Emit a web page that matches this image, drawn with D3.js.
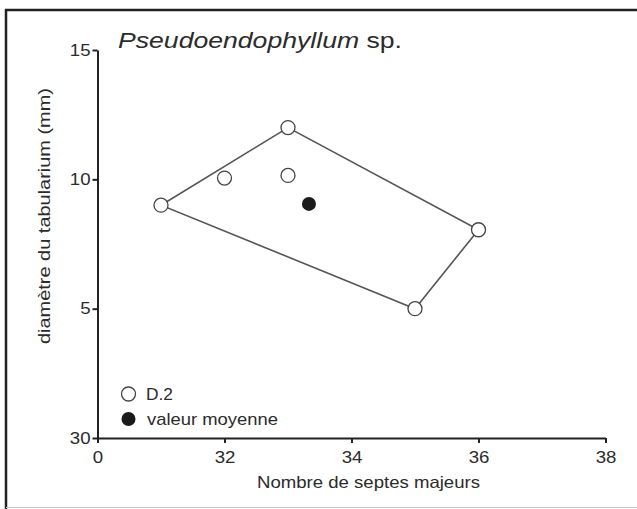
<!DOCTYPE html>
<html>
<head>
<meta charset="utf-8">
<script src="https://cdn.jsdelivr.net/npm/d3@7"></script>
<style>
  html, body { margin: 0; padding: 0; background: #fff; }
  svg { display: block; }
  text { font-family: "Liberation Sans", Arial, sans-serif; fill: #2b2b2b; }
</style>
</head>
<body>
<svg id="chart" width="637" height="509"></svg>
<script>
// Specimens of sample D.2: number of major septa vs tabularium diameter (mm)
const septa    = [31, 32, 33, 33, 36, 35];
const diameter = [9, 10.05, 12, 10.15, 8.05, 5];
// Mean value of the sample
const meanSepta = [33.33];
const meanDiameter = [9.05];
// Outline of the sample (indices into the arrays above)
const hullOrder = [0, 2, 4, 5];

const xTicks = [30, 32, 34, 36, 38];
const yTicks = [0, 5, 10, 15];
const xTickLabels = ["0", "32", "34", "36", "38"];
const yTickLabels = ["30", "5", "10", "15"];

// Lettering in this figure is set slightly wide
const STRETCH = 1.13;
function widen(sel, factor) {
  sel.each(function () {
    const len = this.getComputedTextLength();
    d3.select(this).attr("textLength", len * factor).attr("lengthAdjust", "spacingAndGlyphs");
  });
}

const svg = d3.select("#chart");

// Frame
svg.append("line").attr("x1", 6).attr("x2", 6).attr("y1", 9).attr("y2", 509)
  .attr("stroke", "#222").attr("stroke-width", 2.5);
svg.append("line").attr("x1", 5).attr("x2", 637).attr("y1", 10).attr("y2", 10)
  .attr("stroke", "#222").attr("stroke-width", 2.5);
svg.append("line").attr("x1", 6).attr("x2", 637).attr("y1", 507.5).attr("y2", 507.5)
  .attr("stroke", "#c8c8c8").attr("stroke-width", 1);

const x = d3.scaleLinear().domain([30, 38]).range([97.5, 605.5]);
const y = d3.scaleLinear().domain([0, 15]).range([438, 50]);

// Axes
const xAxis = d3.axisBottom(x).tickValues(xTicks).tickSize(5).tickSizeOuter(0)
  .tickFormat((d, i) => xTickLabels[i]);
const yAxis = d3.axisLeft(y).tickValues(yTicks).tickSize(5).tickSizeOuter(0)
  .tickFormat((d, i) => yTickLabels[i]);

const gx = svg.append("g").attr("transform", `translate(0,${y(0)})`).call(xAxis);
const gy = svg.append("g").attr("transform", `translate(${x(30)},0)`).call(yAxis);

[gx, gy].forEach(g => {
  g.select(".domain").attr("stroke", "#222").attr("stroke-width", 2);
  g.selectAll(".tick line").attr("stroke", "#222").attr("stroke-width", 2);
  g.selectAll(".tick text").attr("font-size", 16.5)
    .attr("font-family", "Liberation Sans, Arial, sans-serif").attr("fill", "#2b2b2b");
  widen(g.selectAll(".tick text"), STRETCH);
});
gx.selectAll(".tick text").attr("dy", "1.0em");
gy.selectAll(".tick text").attr("x", -7);

// Axis titles
svg.append("text")
  .attr("x", 368.5).attr("y", 488)
  .attr("text-anchor", "middle").attr("font-size", 16.5)
  .attr("textLength", 223).attr("lengthAdjust", "spacingAndGlyphs")
  .text("Nombre de septes majeurs");
svg.append("text")
  .attr("transform", "translate(50,216) rotate(-90)")
  .attr("text-anchor", "middle").attr("font-size", 17)
  .attr("textLength", 256).attr("lengthAdjust", "spacingAndGlyphs")
  .text("diamètre du tabularium (mm)");

// Title
const title = svg.append("text").attr("x", 118).attr("y", 48).attr("font-size", 22)
  .attr("textLength", 284).attr("lengthAdjust", "spacingAndGlyphs");
title.append("tspan").attr("font-style", "italic").text("Pseudoendophyllum");
title.append("tspan").text(" sp.");

// Sample outline
const hull = hullOrder.map(i => [x(septa[i]), y(diameter[i])]);
svg.append("path")
  .attr("d", d3.line()(hull) + "Z")
  .attr("fill", "none").attr("stroke", "#555").attr("stroke-width", 1.6);

// Specimens
svg.append("g").selectAll("circle")
  .data(septa.map((s, i) => [s, diameter[i]]))
  .join("circle")
  .attr("cx", d => x(d[0])).attr("cy", d => y(d[1])).attr("r", 7)
  .attr("fill", "#fff").attr("stroke", "#444").attr("stroke-width", 1.3);

// Mean
svg.append("g").selectAll("circle")
  .data(meanSepta.map((s, i) => [s, meanDiameter[i]]))
  .join("circle")
  .attr("cx", d => x(d[0])).attr("cy", d => y(d[1])).attr("r", 7)
  .attr("fill", "#1a1a1a");

// Legend
const legend = svg.append("g");
legend.append("circle").attr("cx", 128.5).attr("cy", 394).attr("r", 7)
  .attr("fill", "#fff").attr("stroke", "#444").attr("stroke-width", 1.3);
legend.append("text").attr("x", 146).attr("y", 400).attr("font-size", 17)
  .attr("textLength", 27).attr("lengthAdjust", "spacingAndGlyphs").text("D.2");
legend.append("circle").attr("cx", 128.5).attr("cy", 419).attr("r", 7)
  .attr("fill", "#1a1a1a");
legend.append("text").attr("x", 147).attr("y", 425).attr("font-size", 17)
  .attr("textLength", 131).attr("lengthAdjust", "spacingAndGlyphs").text("valeur moyenne");
</script>
</body>
</html>
